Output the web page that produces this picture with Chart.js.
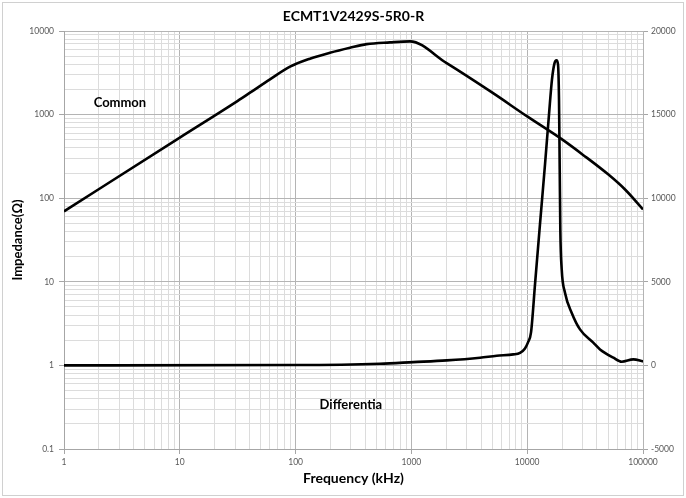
<!DOCTYPE html>
<html><head><meta charset="utf-8">
<script src="https://cdn.jsdelivr.net/npm/chart.js@4.4.1/dist/chart.umd.min.js"></script>
<style>html,body{margin:0;padding:0;background:#fff}#wrap{width:686px;height:498px;position:relative}</style>
</head><body><div id="wrap"><canvas id="c" width="686" height="498"></canvas></div>
<script>
const chartTitle = 'ECMT1V2429S-5R0-R';
const xTitle = 'Frequency (kHz)';
const yTitle = 'Impedance(Ω)';
const xTickLabels = [1, 10, 100, 1000, 10000, 100000];
const leftTickLabels = [0.1, 1, 10, 100, 1000, 10000];
const rightTickLabels = [-5000, 0, 5000, 10000, 15000, 20000];

const commonFreq = [1, 10, 30, 40.4, 60.1, 89.5, 133, 198, 295, 411, 653, 972, 2000, 5000, 10000, 20000, 30000, 50000, 70000, 100000];
const commonZ    = [69.5, 531, 1391, 1828, 2637, 3740, 4666, 5500, 6310, 6970, 7310, 7510, 4152, 1828, 951, 505, 334, 193, 127, 73.5];

const diffFreq = [1, 100, 535, 1038, 2018, 3910, 5455, 7590, 8670, 9570, 10160, 10790, 11680, 12890, 14250, 15430, 16370, 17200, 17900, 18450, 18820, 19090, 19320, 19860, 21200, 24200, 28570, 37200, 42550, 55460, 65460, 82500, 100000];
const diffZ    = [0, 20, 100, 197, 299, 460, 580, 658, 750, 1017, 1376, 1974, 4845, 8433, 12022, 15012, 17106, 18063, 18242, 18003, 15910, 11723, 8134, 5742, 4348, 3152, 2153, 1358, 957, 460, 221, 359, 240];

const annotations = [
  {text: 'Common', x: 3.04, y: 1393, axis: 'y'},
  {text: 'Differentia', x: 300, y: -2330, axis: 'y2'}
];

function logTicks(majors) {
  const out = [];
  for (let i = 0; i < majors.length - 1; i++) {
    out.push(majors[i]);
    for (let k = 2; k <= 9; k++) out.push(+(k * majors[i]).toPrecision(6));
  }
  out.push(majors[majors.length - 1]);
  return out;
}
const xMajor = new Set(xTickLabels);
const yMajor = new Set(leftTickLabels);
const xAll = logTicks(xTickLabels);
const yAll = logTicks(leftTickLabels);

const FONT = 'Lato, "Open Sans", "Liberation Sans", sans-serif';
const MAJ = '#b4b4b4', MIN = '#dcdcdc', TICKC = '#a6a6a6', LBL = '#595959';

const decor = {
  id: 'decor',
  beforeDraw(chart) {
    const ctx = chart.ctx;
    ctx.save();
    ctx.fillStyle = '#fff';
    ctx.fillRect(0, 0, chart.width, chart.height);
    ctx.strokeStyle = '#d0d0d0';
    ctx.lineWidth = 1;
    ctx.strokeRect(2.5, 2.5, chart.width - 5, chart.height - 5);
    ctx.restore();
  },
  afterDraw(chart) {
    const ctx = chart.ctx;
    const a = chart.chartArea;
    ctx.save();
    ctx.fillStyle = '#000';
    ctx.textAlign = 'center';
    ctx.textBaseline = 'middle';
    ctx.font = 'bold 14px ' + FONT;
    ctx.fillText(chartTitle, (a.left + a.right) / 2, 16);
    ctx.font = 'bold 13px ' + FONT;
    annotations.forEach(t => {
      const px = chart.scales.x.getPixelForValue(t.x);
      const py = chart.scales[t.axis].getPixelForValue(t.y);
      ctx.fillText(t.text, px, py);
    });
    ctx.restore();
  }
};

const gridColor = (set) => (c) => (c.tick && set.has(c.tick.value)) ? MAJ : MIN;
const tickColor = (set) => (c) => (c.tick && set.has(c.tick.value)) ? TICKC : 'rgba(0,0,0,0)';

new Chart(document.getElementById('c'), {
  type: 'line',
  data: {
    datasets: [
      {label: 'Common', yAxisID: 'y', data: commonFreq.map((f, i) => ({x: f, y: commonZ[i]})),
       borderColor: '#000', borderWidth: 2.6, pointRadius: 0, cubicInterpolationMode: 'monotone', fill: false},
      {label: 'Differential', yAxisID: 'y2', data: diffFreq.map((f, i) => ({x: f, y: diffZ[i]})),
       borderColor: '#000', borderWidth: 2.6, pointRadius: 0, cubicInterpolationMode: 'monotone', fill: false}
    ]
  },
  options: {
    responsive: false,
    animation: false,
    devicePixelRatio: 1,
    layout: {padding: {top: 31, left: 0, right: 0, bottom: 0}},
    plugins: {legend: {display: false}, tooltip: {enabled: false}, title: {display: false}},
    scales: {
      x: {
        type: 'logarithmic', position: 'bottom', min: 1, max: 100000,
        afterBuildTicks: s => { s.ticks = xAll.map(v => ({value: v, major: xMajor.has(v)})); },
        afterFit: s => { s.height = 49; },
        ticks: {autoSkip: false, maxRotation: 0, padding: 3, color: LBL, font: {family: FONT, size: 8.5},
                callback: v => xMajor.has(v) ? String(v) : ''},
        grid: {color: gridColor(xMajor), tickColor: tickColor(xMajor), tickLength: 5, lineWidth: 1},
        border: {color: TICKC},
        title: {display: true, text: xTitle, color: '#000', font: {family: FONT, size: 14, weight: 'bold'}, padding: {top: 0, bottom: 11}}
      },
      y: {
        type: 'logarithmic', position: 'left', min: 0.1, max: 10000,
        afterBuildTicks: s => { s.ticks = yAll.map(v => ({value: v, major: yMajor.has(v)})); },
        afterFit: s => { s.width = 64; },
        ticks: {autoSkip: false, padding: 5, color: LBL, font: {family: FONT, size: 8.5},
                callback: v => yMajor.has(v) ? String(v) : ''},
        grid: {color: gridColor(yMajor), tickColor: tickColor(yMajor), tickLength: 5, lineWidth: 1},
        border: {color: TICKC},
        title: {display: true, text: yTitle, color: '#000', font: {family: FONT, size: 13, weight: 'bold'}, padding: {top: 10, bottom: 0}}
      },
      y2: {
        type: 'linear', position: 'right', min: -5000, max: 20000,
        afterBuildTicks: s => { s.ticks = rightTickLabels.map(v => ({value: v})); },
        afterFit: s => { s.width = 43; },
        ticks: {autoSkip: false, padding: 3, color: LBL, font: {family: FONT, size: 8.5}, callback: v => String(v)},
        grid: {drawOnChartArea: false, tickColor: TICKC, tickLength: 5},
        border: {color: MAJ}
      }
    }
  },
  plugins: [decor]
});
</script></body></html>
